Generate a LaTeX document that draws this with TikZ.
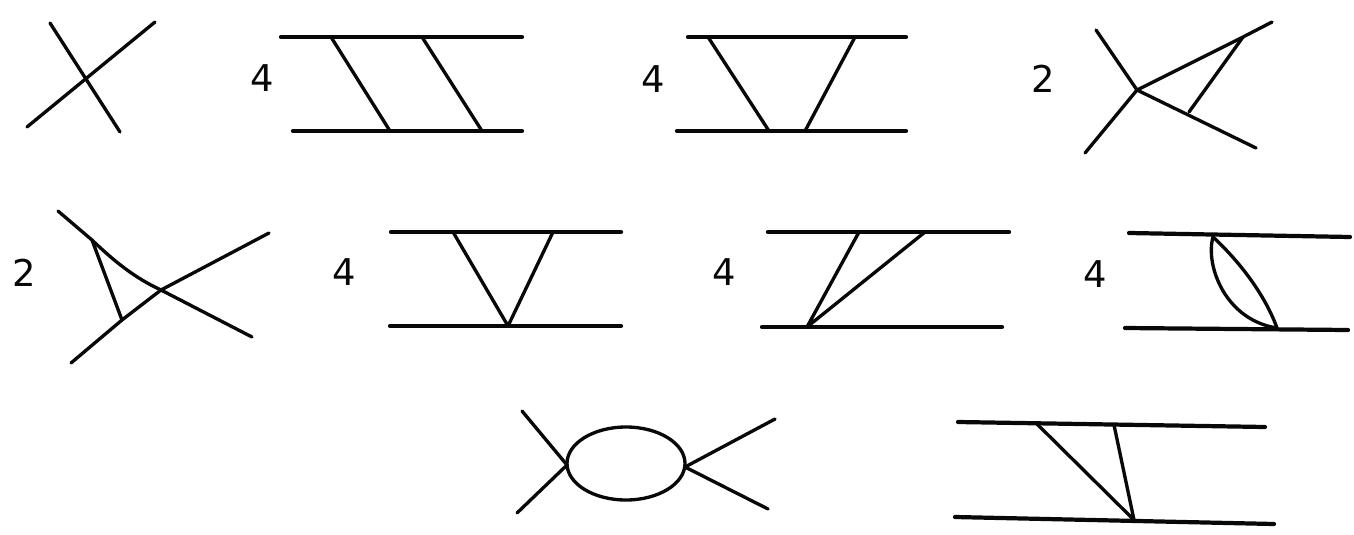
\documentclass[tikz,border=0pt]{standalone}
\usepackage{fontspec}
\setmainfont{DejaVu Sans}
\usepackage{xcolor}
\definecolor{fgblack}{RGB}{8,8,8}

\begin{document}
\begin{tikzpicture}[x=0.02cm,y=-0.02cm,
    prop/.style={draw=fgblack, line width=1.9pt, line cap=round, line join=round},
    leg/.style={prop, line width=2.4pt},
    weight/.style={font=\fontsize{21}{21}\selectfont, text=fgblack, inner sep=0pt}]
  \useasboundingbox (0,0) rectangle (1354,534);

  % Row one
  \draw[prop] (50,23) -- (120,132);
  \draw[prop] (155,22) -- (27,127);

  \node[weight] (w12) at (262,78) {4};
  \draw[leg] (281,37) -- (522,37);
  \draw[leg] (293,131) -- (522,131);
  \draw[prop] (331,37) -- (390,131);
  \draw[prop] (422,37) -- (482,131);

  \node[weight] (w13) at (653.5,79) {4};
  \draw[leg] (688,37) -- (906,37);
  \draw[leg] (677,131) -- (906,131);
  \draw[prop] (708,37) -- (769,131);
  \draw[prop] (855,37) -- (805,131);

  \node[weight] (w14) at (1043,79) {2};
  \draw[prop] (1096,30) -- (1137,90) -- (1085,153);
  \draw[prop] (1137,90) -- (1243,37) -- (1272,22);
  \draw[prop] (1137,90) -- (1256,148);
  \draw[prop] (1243,37) -- (1189,112);

  % Row two
  \node[weight] (w21) at (24,273) {2};
  \draw[prop] (58,211) -- (92,240) .. controls (115,262) and (135,278) .. (161,290) -- (252,337);
  \draw[prop] (269,233) -- (161,290) -- (122,320) -- (71,363);
  \draw[prop] (92,240) -- (122,320);

  \node[weight] (w22) at (344.5,272.5) {4};
  \draw[leg] (391,232) -- (621,232);
  \draw[leg] (390,326) -- (621,326);
  \draw[prop] (453,232) -- (508,326) -- (553,232);

  \node[weight] (w23) at (724,272.5) {4};
  \draw[leg] (768,232) -- (1009,232);
  \draw[leg] (762,327) -- (1002,327);
  \draw[prop] (859,232) -- (807,327) -- (925,232);

  \node[weight] (w24) at (1095,274.5) {4};
  \draw[leg] (1129,233) -- (1350,237);
  \draw[leg] (1125,328) -- (1348,330);
  \draw[prop] (1213,237) .. controls (1205,265) and (1225,320) .. (1277,328);
  \draw[prop] (1213,237) .. controls (1240,262) and (1265,295) .. (1277,328);

  % Row three
  \draw[prop] (626,463.5) ellipse (59 and 36.5);
  \draw[prop] (522,411) -- (567,465) -- (517,513);
  \draw[prop] (775,419) -- (685,467) -- (768,509);

  \draw[leg] (958,422) -- (1265,427);
  \draw[leg] (955,517) -- (1274,524);
  \draw[prop] (1037,424) -- (1134,520);
  \draw[prop] (1114,425) -- (1134,520);
\end{tikzpicture}
\end{document}
